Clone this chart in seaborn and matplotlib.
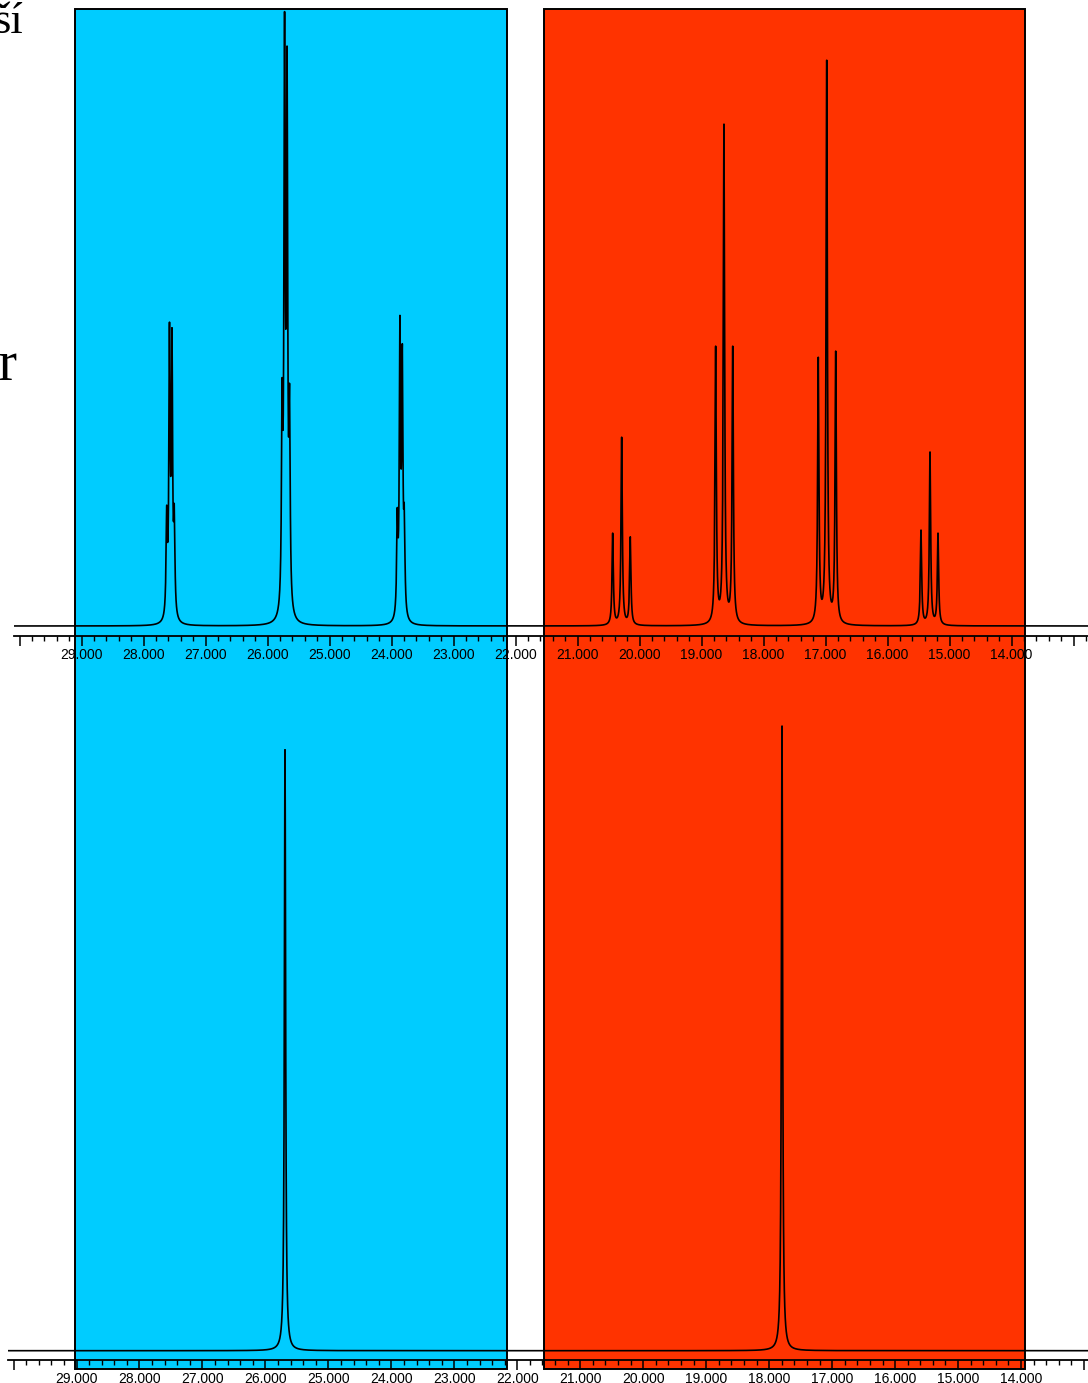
import numpy as np
import pandas as pd
import matplotlib
matplotlib.use("Agg")
import matplotlib.pyplot as plt
import seaborn as sns
from matplotlib.patches import Rectangle
from matplotlib.ticker import MultipleLocator, FuncFormatter
from matplotlib.transforms import blended_transform_factory

# ---- coupled spectrum: line positions (ppm), peak heights, half widths (ppm)
coupled_ppm = [27.627, 27.582, 27.542, 27.505,
               25.766, 25.726, 25.686, 25.646,
               23.908, 23.865, 23.827, 23.795,
               20.434, 20.289, 20.150,
               18.773, 18.639, 18.498,
               17.118, 16.982, 16.837,
               15.461, 15.316, 15.187]
coupled_height = [19.6, 49.4, 48.5, 19.8,
                  40.2, 99.9, 94.3, 39.3,
                  19.2, 50.5, 45.9, 19.8,
                  15.1, 30.7, 14.5,
                  45.5, 81.6, 45.5,
                  43.7, 92.0, 44.7,
                  15.6, 28.3, 15.1]
coupled_hwhm = [0.012] * 12 + [0.0125] * 12

# ---- decoupled spectrum
decoupled_ppm = [25.689, 17.796]
decoupled_height = [96.2, 100.0]
decoupled_hwhm = [0.012, 0.012]

# ---- highlighted regions (ppm)
region_left = [29.106, 21.541]
region_right = [22.139, 13.784]
region_color = ["#00CCFF", "#FF3300"]

# ---- labelled ppm range of the scale
label_min, label_max = 14.0, 29.0

# ---- side captions
captions = ["ší", "er"]


def lorentz(x, x0, g):
    return 1.0 / (1.0 + ((x - x0) / g) ** 2)


def spectrum(grid, pos, height, hwhm):
    pos = np.asarray(pos)
    height = np.asarray(height)
    hwhm = np.asarray(hwhm)
    # amplitudes chosen so the summed curve reaches the listed heights at each line
    A = lorentz(pos[:, None], pos[None, :], hwhm[None, :])
    amp = np.linalg.solve(A, height)
    return (amp[None, :] * lorentz(grid[:, None], pos[None, :], hwhm[None, :])).sum(axis=1)


W, H = 1088, 1383
sns.set_style("white")
plt.rcParams["font.family"] = ["Liberation Sans", "DejaVu Sans"]
plt.rcParams["text.color"] = "black"

fig = plt.figure(figsize=(W / 100, H / 100), dpi=100)


def px_axes(x0, y0, x1, y1):
    return fig.add_axes([x0 / W, 1 - y1 / H, (x1 - x0) / W, (y1 - y0) / H])


ax_top = px_axes(14, 10, 1088, 636)
ax_bot = px_axes(8, 690, 1088, 1360)

grid = np.union1d(np.linspace(30.3, 12.6, 35401), np.array(coupled_ppm + decoupled_ppm))
df_top = pd.DataFrame({"ppm": grid, "I": spectrum(grid, coupled_ppm, coupled_height, coupled_hwhm)})
df_bot = pd.DataFrame({"ppm": grid, "I": spectrum(grid, decoupled_ppm, decoupled_height, decoupled_hwhm)})

ppm_fmt = FuncFormatter(
    lambda v, pos: f"{v:.3f}" if label_min - 0.01 <= v <= label_max + 0.01 else "")

for ax, df, xlim, ylim in [
    (ax_top, df_top, (30.090, 12.768), (-10 / 6.15, 616 / 6.15)),
    (ax_bot, df_bot, (30.088, 12.937), (-9.3 / 6.247, (670 - 9.3) / 6.247)),
]:
    sns.lineplot(data=df, x="ppm", y="I", ax=ax, color="black", linewidth=1.2,
                 estimator=None, sort=False)
    ax.set_xlim(*xlim)
    ax.set_ylim(*ylim)
    ax.patch.set_visible(False)
    for s in ("top", "left", "right"):
        ax.spines[s].set_visible(False)
    ax.spines["bottom"].set_linewidth(1.3)
    ax.spines["bottom"].set_color("black")
    ax.set_yticks([])
    ax.set_xlabel("")
    ax.set_ylabel("")
    ax.xaxis.set_major_locator(MultipleLocator(1.0))
    ax.xaxis.set_minor_locator(MultipleLocator(0.2))
    ax.xaxis.set_major_formatter(ppm_fmt)
    ax.tick_params(axis="x", which="major", direction="out", length=7.2, width=1.1,
                   color="black", labelcolor="black", labelsize=10, pad=1.5, bottom=True)
    ax.tick_params(axis="x", which="minor", direction="out", length=3.6, width=1.0,
                   color="black", bottom=True)

# coloured regions spanning both spectra
trans = blended_transform_factory(ax_top.transData, fig.transFigure)
y0 = 1 - 1369 / H
y1 = 1 - 9 / H
for l, r, c in zip(region_left, region_right, region_color):
    fig.add_artist(Rectangle((l, y0), r - l, y1 - y0, transform=trans,
                             facecolor=c, edgecolor="black", linewidth=1.4, zorder=-1))

fig.text(23 / W, 1 - 33 / H, captions[0], ha="right", va="baseline", color="black",
         fontsize=32, family=["Liberation Serif", "DejaVu Serif"])
fig.text(18 / W, 1 - 380 / H, captions[1], ha="right", va="baseline", color="black",
         fontsize=40, family=["Liberation Serif", "DejaVu Serif"])

fig.savefig("out.png", dpi=100)
